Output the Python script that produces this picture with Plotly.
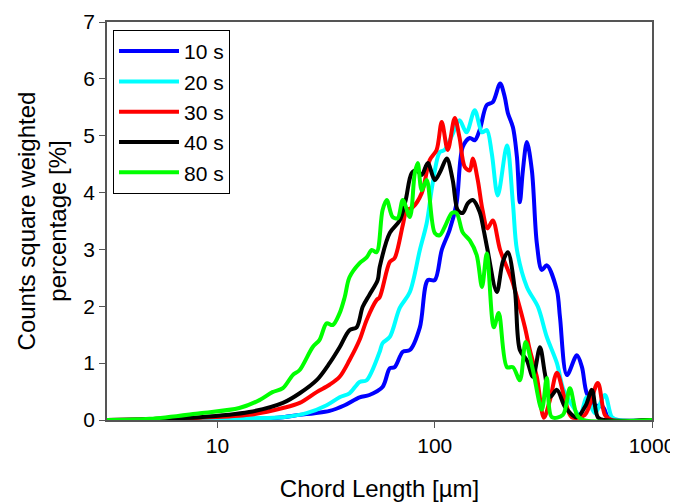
import plotly.graph_objects as go

# ---- data ----
x_10s = [3.1, 8.3, 15.0, 20.0, 23.9, 28.0, 32.8, 38.5, 45.1, 50.0, 57.5, 62.1, 65.4, 71.3, 76.8, 85.4, 92.9,
         100, 107.7, 117, 126, 134.5, 145, 152.8, 161, 173.6, 185, 200, 210, 217, 229, 239, 246.5, 254.5,
         265.5, 280, 295, 311, 328, 365, 377, 406, 451, 476, 501, 546, 594, 640, 1000]
y_10s = [0.0, 0.0, 0.02, 0.05, 0.09, 0.12, 0.16, 0.26, 0.40, 0.44, 0.58, 0.91, 0.93, 1.20, 1.23, 1.63, 2.46,
         2.46, 2.99, 3.34, 3.81, 4.80, 4.96, 4.92, 5.10, 5.54, 5.59, 5.92, 5.68, 5.40, 5.15, 4.62, 3.83, 4.39,
         4.89, 4.39, 3.11, 2.64, 2.72, 2.28, 1.81, 0.79, 1.14, 0.93, 0.47, 0.26, 0.23, 0.0, 0.0]

x_20s = [3.1, 8.3, 14.0, 20.0, 25.7, 31.8, 36.5, 40.5, 45.1, 48.6, 55.8, 57.5, 62.1, 69, 76.8, 85.4, 91.8,
         97.9, 105.4, 111, 120, 130, 140, 152.8, 165, 173.6, 183, 195, 215, 229, 239, 265.5, 298.5, 328,
         365, 389, 419, 466, 501, 546, 607, 654, 700, 1000]
y_20s = [0.0, 0.01, 0.03, 0.05, 0.12, 0.26, 0.40, 0.47, 0.67, 0.70, 1.20, 1.35, 1.46, 1.97, 2.25, 2.99, 3.46,
         4.17, 4.71, 4.75, 5.00, 5.27, 5.06, 5.45, 5.06, 5.10, 4.69, 3.95, 4.83, 3.81, 2.99, 2.34, 1.99, 1.46,
         1.00, 0.56, 0.32, 0.09, 0.40, 0.12, 0.44, 0.05, 0.0, 0.0]

x_30s = [3.1, 8.3, 14.0, 20.0, 23.9, 28.6, 32.8, 36.5, 40.5, 45.1, 48.6, 54.0, 55.8, 62.1, 65.4, 71.3, 74.3,
         79.2, 87.1, 94.8, 102, 107.7, 114.8, 123.6, 130, 137.5, 145, 149.6, 157.8, 166, 175, 185, 200,
         226.5, 241, 260, 274, 295, 318, 339, 365, 398, 427, 491, 563, 607, 650, 1000]
y_30s = [0.0, 0.04, 0.09, 0.21, 0.30, 0.49, 0.62, 0.76, 1.05, 1.41, 1.76, 2.11, 2.16, 2.78, 2.85, 3.43, 3.69,
         3.74, 3.99, 4.57, 4.75, 5.24, 4.75, 5.31, 4.97, 4.45, 4.39, 4.60, 4.22, 3.69, 3.37, 3.51, 2.99,
         2.46, 2.11, 1.63, 1.23, 0.76, 0.04, 0.35, 0.83, 0.35, 0.05, 0.09, 0.65, 0.09, 0.0, 0.0]

x_40s = [3.1, 8.3, 14.0, 20.0, 23.9, 28.6, 32.8, 36.5, 40.5, 43.7, 46.6, 50.0, 54.6, 55.8, 62.1, 69, 73.5,
         78.3, 82.6, 87.1, 92.9, 100, 106.6, 113.6, 121, 127.6, 134.5, 141.9, 149.6, 161, 168, 175, 193,
         205.6, 217, 234, 246.5, 265.5, 283, 305, 321, 339, 365, 398, 451, 496, 529, 563, 600, 1000]
y_40s = [0.0, 0.05, 0.14, 0.30, 0.47, 0.70, 1.00, 1.28, 1.58, 1.63, 1.99, 2.20, 2.46, 2.69, 3.29, 3.51, 3.87,
         4.34, 4.39, 4.31, 4.52, 4.22, 4.39, 4.60, 4.22, 3.69, 3.64, 3.81, 3.87, 3.66, 3.34, 2.99, 2.25,
         2.78, 2.95, 2.28, 1.23, 1.05, 0.76, 1.28, 0.83, 0.40, 0.53, 0.23, 0.05, 0.26, 0.53, 0.05, 0.0, 0.0]

x_80s = [3.1, 4.87, 8.3, 12.6, 15.6, 17.9, 20.0, 22.2, 23.9, 27.4, 29.5, 31.8, 33.9, 36.5, 38.5, 40.5, 45.1,
         48.6, 51.3, 54.0, 57.5, 60.1, 64.0, 67.5, 71.3, 76.8, 80.9, 83.5, 87.1, 91.8, 100, 105.4, 111, 120,
         126, 134.5, 145, 156, 165, 173.6, 187, 197, 215, 229, 246.5, 262, 283, 311, 328, 346, 389, 419,
         451, 481, 1000]
y_80s = [0.0, 0.02, 0.12, 0.21, 0.35, 0.49, 0.56, 0.79, 0.88, 1.28, 1.41, 1.70, 1.67, 1.88, 2.16, 2.51, 2.76,
         2.86, 2.99, 2.95, 3.69, 3.87, 3.57, 3.55, 3.87, 3.57, 4.34, 4.52, 4.04, 4.22, 3.29, 3.25, 3.39, 3.64,
         3.64, 3.30, 3.16, 2.90, 2.34, 2.93, 1.63, 1.88, 0.93, 0.93, 0.70, 1.37, 0.88, 0.18, 0.74, 0.05, 0.09,
         0.56, 0.09, 0.0, 0.0]

series_names = ["10 s", "20 s", "30 s", "40 s", "80 s"]
series_x = [x_10s, x_20s, x_30s, x_40s, x_80s]
series_y = [y_10s, y_20s, y_30s, y_40s, y_80s]
series_colors = ["#0000FF", "#00FFFF", "#FF0000", "#000000", "#00FF00"]

x_tick_vals = [10, 100, 1000]
x_tick_text = ["10", "100", "1000"]
y_tick_vals = [0, 1, 2, 3, 4, 5, 6, 7]

FONT = "Liberation Sans, Arial, sans-serif"

fig = go.Figure()
for name, xs, ys, col in zip(series_names, series_x, series_y, series_colors):
    fig.add_trace(go.Scatter(
        x=xs, y=ys, mode="lines", name=name, legendgroup=name,
        line=dict(color=col, width=4, shape="spline", smoothing=0.9),
    ))

axis_line = "#555555"
# The page body adds an 8 px offset; margins compensate so the plot sits where the reference has it.
fig.update_layout(
    width=678, height=496,
    margin=dict(l=99, r=34, t=14, b=84, autoexpand=False),
    paper_bgcolor="white", plot_bgcolor="white",
    font=dict(family=FONT, size=21, color="black"),
    showlegend=True,
    legend=dict(
        x=0.011, y=0.98, xanchor="left", yanchor="top",
        bordercolor="black", borderwidth=1, bgcolor="white",
        font=dict(family=FONT, size=21, color="black"),
        tracegroupgap=0, itemwidth=60,
    ),
    xaxis=dict(
        type="log", range=[0.4914, 3.0], automargin=False,
        tickvals=x_tick_vals, ticktext=x_tick_text,
        ticks="outside", ticklen=6, tickcolor=axis_line, tickwidth=1,
        showline=True, linecolor=axis_line, linewidth=1.5, mirror=True,
        showgrid=False, zeroline=False,
        tickfont=dict(family=FONT, size=21),
        title=dict(text="Chord Length [µm]", font=dict(family=FONT, size=24), standoff=24),
    ),
    yaxis=dict(
        range=[0, 7], tickvals=y_tick_vals, automargin=False,
        ticks="outside", ticklen=6, tickcolor=axis_line, tickwidth=1,
        showline=True, linecolor=axis_line, linewidth=1.5, mirror=True,
        showgrid=False, zeroline=False,
        tickfont=dict(family=FONT, size=21),
        title=dict(text="Counts square weighted<br>percentage [%]", font=dict(family=FONT, size=24), standoff=10),
    ),
)

fig.write_html("out.html")
